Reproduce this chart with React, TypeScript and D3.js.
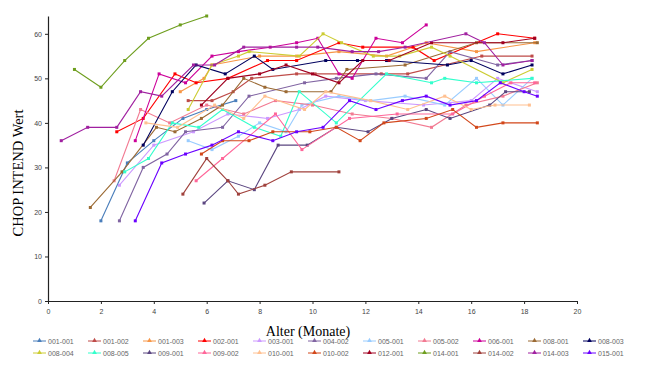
import React, { useEffect, useRef } from "react";
import * as d3 from "d3";

// values: [age in months, CHOP INTEND score]
const s001_001 = [[2, 18], [3, 31], [4, 36], [5.1, 41], [6, 43], [7.1, 45]];
const s001_002 = [[5.3, 45], [6.2, 45], [7, 47], [7.7, 50], [9.4, 51], [10.1, 51], [12.6, 51], [13.6, 51], [16.4, 55], [18.3, 55]];
const s001_003 = [[5, 47], [5.9, 50], [6.2, 53], [8, 55], [9.4, 55], [11, 56], [12.8, 55], [14.3, 58], [16.2, 56], [18.4, 58]];
const s002_001 = [[2.6, 38], [3.6, 41], [4.8, 51], [5.6, 49], [6.8, 50], [8.3, 54], [9.4, 54], [11, 58], [11.9, 57], [13.8, 57], [14.6, 54], [17, 60], [18.4, 59]];
const s003_001 = [[2.7, 26], [4, 35], [5.5, 38], [6.8, 42], [8.3, 41], [9.5, 43], [10.5, 46], [12, 45], [14.2, 44], [16, 45], [17, 50], [18.5, 47]];
const s004_002 = [[2.7, 18], [3.6, 30], [4.5, 33], [5.2, 38], [6.6, 39], [7.6, 46], [9.7, 49], [10.9, 50], [12.4, 51], [14.3, 50], [15.2, 56], [17, 53], [18.3, 54]];
const s005_001 = [[5.3, 36], [6.2, 34], [7.2, 37], [8, 40], [9, 38], [9.6, 44], [11, 46], [12.2, 45], [13.5, 46], [15, 44], [16.2, 50], [17.2, 44], [18.3, 50]];
const s005_002 = [[2.5, 27], [3.5, 43], [4.6, 40], [6, 44], [7.4, 42], [8.6, 45], [10, 44], [11.5, 42], [13, 41], [14.5, 39], [15.8, 44], [17.2, 46], [18.5, 49]];
const s006_001 = [[3.3, 36], [4.2, 51], [5.2, 49], [6.2, 55], [7.2, 56], [8.4, 57], [9.4, 58], [10.2, 59], [11, 51], [11.5, 50], [12.4, 59], [13.4, 58], [14.3, 62]];
const s008_001 = [[1.6, 21], [2.8, 29], [4.1, 39], [4.8, 38], [5.8, 41], [6.6, 44], [7.4, 50], [8.2, 48], [9, 47], [10.7, 47], [11.3, 52], [13.5, 53], [16.2, 58], [18.5, 58]];
const s008_003 = [[3.6, 35], [4.7, 47], [5.6, 53], [6.7, 51], [7.8, 55], [8.5, 52], [10.5, 54], [11.7, 54], [12.8, 54], [15.1, 53], [16, 54], [17.2, 51], [18.3, 53]];
const s008_004 = [[5.3, 43], [6.2, 53], [7.2, 55], [7.6, 56], [9.5, 55], [10.4, 60], [11.1, 58], [12.3, 55], [13.3, 55], [14.5, 57], [15.2, 55], [17.2, 49], [18.3, 52]];
const s008_005 = [[2.9, 29], [3.8, 32], [4.7, 40], [5.7, 39], [6.6, 43], [7.8, 39], [8.8, 37], [9.5, 47], [10.9, 40], [12.8, 51], [14.5, 49], [15, 50], [16.2, 49], [18.3, 50]];
const s009_001 = [[5.9, 22], [6.8, 27], [7.8, 25], [8.7, 35], [9.8, 35], [10.9, 39], [12.1, 38], [13, 41], [14.3, 43], [15.2, 41], [16.7, 44], [17.3, 47], [18.2, 47]];
const s009_002 = [[5.6, 27], [6.6, 32], [8.6, 42], [9.6, 34], [11.4, 41], [13.2, 42], [15.3, 42], [16.5, 46], [17.5, 49], [18.4, 49]];
const s010_001 = [[3.7, 40], [4.9, 39], [6.3, 44], [7.4, 41], [8.2, 46], [9.7, 43], [10.5, 47], [12.2, 45], [13.6, 43], [15, 46], [16, 43], [16.9, 44], [18.2, 44]];
const s010_002 = [[5.8, 33], [6.6, 36], [7.6, 36], [8.5, 38], [9.9, 38], [10.9, 39], [11.8, 36], [12.7, 40], [14.3, 41], [15.3, 43], [16.2, 39], [17.2, 40], [18.5, 40]];
const s012_001 = [[5.8, 44], [6.8, 50], [8, 51], [9, 53], [10, 51], [11, 49], [11.9, 54], [12.9, 54], [14.5, 58], [17.2, 58], [18.4, 59]];
const s014_001 = [[1, 52], [2, 48], [2.9, 54], [3.8, 59], [5, 62], [6, 64]];
const s014_002 = [[5.1, 24], [6, 32], [6.8, 27], [7.2, 24], [8.2, 26], [9.2, 29], [11, 29]];
const s014_003 = [[0.5, 36], [1.5, 39], [2.6, 39], [3.5, 47], [4.3, 46], [5.5, 53], [6.3, 53], [7.4, 57], [9.4, 57], [10.2, 57], [11.5, 56], [12.5, 56], [13.5, 57], [15.8, 60], [16.5, 58], [17.2, 53], [18.3, 54]];
const s015_001 = [[3.3, 18], [4.3, 31], [5.2, 33], [6.2, 35], [7.2, 38], [8.5, 36], [9.4, 38], [10.4, 39], [11.4, 45], [12.4, 43], [13.4, 45], [14.3, 46], [15.2, 44], [16.2, 45], [17.1, 49], [18, 47], [18.5, 46]];

const names = ["001-001", "001-002", "001-003", "002-001", "003-001", "004-002", "005-001", "005-002", "006-001", "008-001", "008-003",
  "008-004", "008-005", "009-001", "009-002", "010-001", "010-002", "012-001", "014-001", "014-002", "014-003", "015-001"];
const values = [s001_001, s001_002, s001_003, s002_001, s003_001, s004_002, s005_001, s005_002, s006_001, s008_001, s008_003,
  s008_004, s008_005, s009_001, s009_002, s010_001, s010_002, s012_001, s014_001, s014_002, s014_003, s015_001];
const colors = ["#4a7ebb", "#be4b48", "#f79646", "#ff0000", "#cc99ff", "#8064a2", "#99ccff", "#f27a92", "#cc0099", "#9b6a34", "#00005e",
  "#cccc33", "#33ffcc", "#5b4680", "#ff6699", "#ffc090", "#d2471a", "#a00020", "#6e9e1e", "#a0413c", "#a020a0", "#6a00ff"];

const xTicks = [0, 2, 4, 6, 8, 10, 12, 14, 16, 18, 20];
const yTicks = [0, 10, 20, 30, 40, 50, 60];

export default function App() {
  const ref = useRef<SVGSVGElement>(null);

  useEffect(() => {
    const svg = d3.select(ref.current);
    svg.selectAll("*").remove();

    const x = d3.scaleLinear().domain([0, 20]).range([48, 577]);
    const y = d3.scaleLinear().domain([0, 64]).range([301, 16]);

    // axes
    const xAxis = svg.append("g").attr("transform", "translate(0,301)")
      .call(d3.axisBottom(x).tickValues(xTicks).tickSize(3).tickSizeOuter(0));
    const yAxis = svg.append("g").attr("transform", "translate(48,0)")
      .call(d3.axisLeft(y).tickValues(yTicks).tickSize(3).tickSizeOuter(0));
    [xAxis, yAxis].forEach(a => {
      a.select(".domain").attr("stroke", "#222").attr("stroke-width", 1.2);
      a.selectAll(".tick line").attr("stroke", "#222");
      a.selectAll(".tick text").attr("fill", "#444").style("font", "7px Arial");
    });
    xAxis.selectAll(".tick text").attr("dy", "1em");
    yAxis.selectAll(".tick text").attr("x", -6);

    svg.append("text")
      .attr("transform", "translate(23,173) rotate(-90)")
      .attr("text-anchor", "middle")
      .style("font", "14.5px 'Liberation Serif', 'Times New Roman', serif")
      .text("CHOP INTEND Wert");
    svg.append("text")
      .attr("x", 308).attr("y", 336)
      .attr("text-anchor", "middle")
      .style("font", "14px 'Liberation Serif', 'Times New Roman', serif")
      .text("Alter (Monate)");

    const line = d3.line<number[]>().x(d => x(d[0])).y(d => y(d[1]));

    values.forEach((vals, i) => {
      const g = svg.append("g");
      g.append("path").datum(vals).attr("d", line)
        .attr("fill", "none").attr("stroke", colors[i]).attr("stroke-width", 1.1);
      g.selectAll("rect").data(vals).join("rect")
        .attr("x", d => x(d[0]) - 1.5).attr("y", d => y(d[1]) - 1.5)
        .attr("width", 3).attr("height", 3)
        .attr("fill", colors[i]);
    });

    // legend, two rows
    const legend = svg.append("g");
    names.forEach((n, i) => {
      const row = Math.floor(i / 11), col = i % 11;
      const lx = 33 + col * 55, ly = 341 + row * 12;
      const item = legend.append("g").attr("transform", `translate(${lx},${ly})`);
      item.append("line").attr("x1", 0).attr("x2", 13).attr("y1", 0).attr("y2", 0)
        .attr("stroke", colors[i]).attr("stroke-width", 1);
      item.append("path").attr("d", d3.symbol(d3.symbolTriangle, 10)())
        .attr("transform", "translate(6.5,-0.5)").attr("fill", colors[i]);
      item.append("text").attr("x", 15).attr("y", 2.5)
        .style("font", "7px Arial").attr("fill", "#666").text(n);
    });
  }, []);

  return (
    <svg ref={ref} width={661} height={369}
      style={{ position: "absolute", left: 0, top: 0, background: "#fff", display: "block" }} />
  );
}
